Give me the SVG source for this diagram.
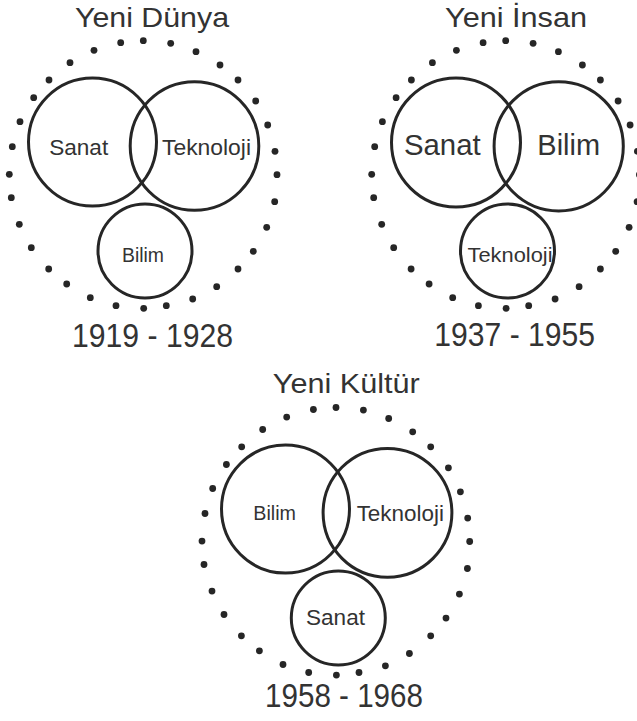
<svg xmlns="http://www.w3.org/2000/svg" xmlns:xlink="http://www.w3.org/1999/xlink" width="637" height="721" viewBox="0 0 637 721">
<style>
.c{fill:none;stroke:#262626;stroke-width:3}
.d{fill:#262626}
text{font-family:"Liberation Sans",Arial,Helvetica,sans-serif;fill:#333;text-anchor:middle}
.t{font-size:28px}
.y{font-size:33px}
</style>
<defs>
<g id="ring" class="d">
<circle cx="143.3" cy="40.7" r="3.4"/><circle cx="120.7" cy="42.7" r="3.4"/><circle cx="170.7" cy="43.3" r="3.4"/><circle cx="94" cy="50.3" r="3.4"/><circle cx="196" cy="51.7" r="3.4"/><circle cx="70" cy="62.7" r="3.4"/><circle cx="220" cy="65" r="3.4"/><circle cx="49" cy="80" r="3.4"/><circle cx="238" cy="80" r="3.4"/><circle cx="33.7" cy="97.7" r="3.4"/><circle cx="255.7" cy="101" r="3.4"/><circle cx="20" cy="121.7" r="3.4"/><circle cx="267.7" cy="125" r="3.4"/><circle cx="12.3" cy="146.7" r="3.4"/><circle cx="275" cy="151.3" r="3.4"/><circle cx="9.3" cy="174.3" r="3.4"/><circle cx="277" cy="174.7" r="3.4"/><circle cx="11.3" cy="197.7" r="3.4"/><circle cx="274.7" cy="201.7" r="3.4"/><circle cx="19.3" cy="224.3" r="3.4"/><circle cx="266.7" cy="227.3" r="3.4"/><circle cx="31.3" cy="247.7" r="3.4"/><circle cx="253.3" cy="251.3" r="3.4"/><circle cx="48.7" cy="269" r="3.4"/><circle cx="238" cy="269" r="3.4"/><circle cx="66.7" cy="284" r="3.4"/><circle cx="216.7" cy="286.7" r="3.4"/><circle cx="90.3" cy="297.7" r="3.4"/><circle cx="192.7" cy="299" r="3.4"/><circle cx="116" cy="305.7" r="3.4"/><circle cx="166.3" cy="305.7" r="3.4"/><circle cx="143.7" cy="308.3" r="3.4"/>
</g>
</defs>
<rect width="637" height="721" fill="#fff"/>
<g id="connectors"/>

<g id="panel-yeni-dunya">
<text class="t" x="152" y="27" textLength="154" lengthAdjust="spacingAndGlyphs">Yeni Dünya</text>
<use href="#ring" xlink:href="#ring"/>
<g id="p1-sanat"><circle class="c" cx="92.5" cy="142" r="64"/><text x="78.7" y="154.5" font-size="22" textLength="59" lengthAdjust="spacingAndGlyphs">Sanat</text></g>
<g id="p1-teknoloji"><circle class="c" cx="194.5" cy="146" r="64.3"/><text x="206.5" y="154.5" font-size="22" textLength="89" lengthAdjust="spacingAndGlyphs">Teknoloji</text></g>
<g id="p1-bilim"><circle class="c" cx="145" cy="251" r="47"/><text x="143" y="262" font-size="19.5" textLength="42" lengthAdjust="spacingAndGlyphs">Bilim</text></g>
<text class="y" x="152.5" y="346.7" textLength="161" lengthAdjust="spacingAndGlyphs">1919 - 1928</text>
</g>

<g id="panel-yeni-insan">
<text class="t" x="516" y="26.7" textLength="142" lengthAdjust="spacingAndGlyphs">Yeni İnsan</text>
<use href="#ring" xlink:href="#ring" transform="translate(362.4,0)"/>
<g id="p2-sanat"><circle class="c" cx="456" cy="142.5" r="64.5"/><text x="442.3" y="155" font-size="29" textLength="76.7" lengthAdjust="spacingAndGlyphs">Sanat</text></g>
<g id="p2-bilim"><circle class="c" cx="558.7" cy="146.3" r="64.6"/><text x="568.7" y="155" font-size="29" textLength="62.7" lengthAdjust="spacingAndGlyphs">Bilim</text></g>
<g id="p2-teknoloji"><circle class="c" cx="507.5" cy="251" r="47"/><text x="510" y="262.3" font-size="21" textLength="85" lengthAdjust="spacingAndGlyphs">Teknoloji</text></g>
<text class="y" x="514.7" y="345.5" textLength="160.7" lengthAdjust="spacingAndGlyphs">1937 - 1955</text>
</g>

<g id="panel-yeni-kultur">
<text class="t" x="346.3" y="393.3" textLength="147" lengthAdjust="spacingAndGlyphs">Yeni Kültür</text>
<use href="#ring" xlink:href="#ring" transform="translate(192.7,366.8)"/>
<g id="p3-bilim"><circle class="c" cx="285.5" cy="509" r="64"/><text x="274.7" y="520" font-size="20" textLength="42.7" lengthAdjust="spacingAndGlyphs">Bilim</text></g>
<g id="p3-teknoloji"><circle class="c" cx="387.5" cy="512.8" r="64.4"/><text x="400.3" y="521" font-size="22" textLength="87.3" lengthAdjust="spacingAndGlyphs">Teknoloji</text></g>
<g id="p3-sanat"><circle class="c" cx="338.3" cy="618" r="47"/><text x="335.5" y="625" font-size="22.5" textLength="59" lengthAdjust="spacingAndGlyphs">Sanat</text></g>
<text class="y" x="344" y="706.7" textLength="158" lengthAdjust="spacingAndGlyphs">1958 - 1968</text>
</g>
</svg>
